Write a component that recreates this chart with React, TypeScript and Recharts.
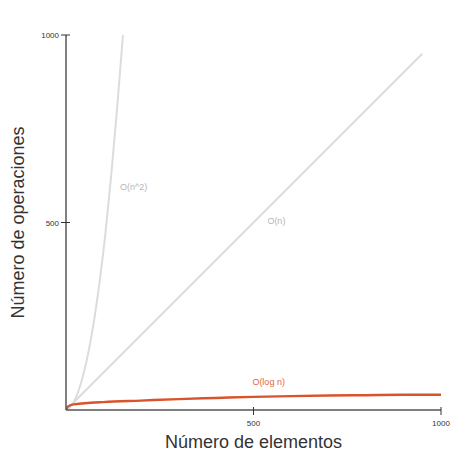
import { LineChart, Line, XAxis, YAxis, ReferenceDot, Label } from "recharts";

// O(n^2) curve
const quadN = [0, 15, 30, 45, 60, 75, 90, 105, 120, 135, 152];
const quadV = [0, 12, 42, 90, 155, 240, 345, 470, 620, 790, 1000];

// O(n) straight line
const linN = [0, 950];
const linV = [0, 950];

// O(log n) curve
const logN = [0, 5, 20, 50, 100, 200, 300, 400, 500, 600, 700, 800, 900, 1000];
const logV = [0, 9, 15, 18, 21, 25, 29, 32, 35, 37, 38.5, 39.5, 40.5, 41];

const xTicks = [500, 1000];
const yTicks = [500, 1000];

const toRows = (ns: number[], vs: number[]) => ns.map((n, i) => ({ n, v: vs[i] }));

const quadData = toRows(quadN, quadV);
const linData = toRows(linN, linV);
const logData = toRows(logN, logV);

const GREY = "#dcdcdc";
const ORANGE = "#d9532c";
const FONT = "'Liberation Sans', Arial, sans-serif";

function YTick(props: any) {
  const { x, y, payload } = props;
  return (
    <g>
      <line x1={x - 5} x2={x + 4} y1={y} y2={y} stroke="#333" strokeWidth={1} />
      <text x={x - 7} y={y + 3} textAnchor="end" fontSize={8} fill="#333" fontFamily={FONT}>
        {payload.value}
      </text>
    </g>
  );
}

function XTick(props: any) {
  const { x, y, payload } = props;
  return (
    <g>
      <line x1={x} x2={x} y1={y - 3} y2={y + 5} stroke="#333" strokeWidth={1} />
      <text x={x} y={y + 16} textAnchor="middle" fontSize={8} fill="#333" fontFamily={FONT}>
        {payload.value}
      </text>
    </g>
  );
}

function SeriesLabel(text: string, color: string) {
  return (props: any) => {
    const { viewBox } = props;
    return (
      <text x={viewBox.x} y={viewBox.y} fontSize={9} fill={color} fontFamily={FONT}>
        {text}
      </text>
    );
  };
}

function YTitle(props: any) {
  const { viewBox } = props;
  const cx = viewBox.x + 8;
  const cy = viewBox.y + viewBox.height / 2;
  return (
    <text
      x={cx}
      y={cy}
      transform={`rotate(-90 ${cx} ${cy})`}
      textAnchor="middle"
      dominantBaseline="central"
      fontSize={18}
      fill="#333"
      fontFamily={FONT}
    >
      Número de operaciones
    </text>
  );
}

export default function App() {
  return (
    <div style={{ position: "absolute", left: 0, top: 0, background: "#fff" }}>
      <LineChart width={473} height={473} margin={{ top: 35, right: 32, bottom: 13, left: 10 }}>
        <XAxis
          type="number"
          dataKey="n"
          domain={[0, 1000]}
          ticks={xTicks}
          tick={<XTick />}
          tickSize={0}
          tickMargin={0}
          tickLine={false}
          stroke="#555"
          strokeWidth={1.5}
          height={50}
          allowDataOverflow
        >
          <Label
            value="Número de elementos"
            position="insideBottom"
            offset={12}
            fontSize={18}
            fill="#333"
            fontFamily={FONT}
          />
        </XAxis>
        <YAxis
          type="number"
          dataKey="v"
          domain={[0, 1000]}
          ticks={yTicks}
          tick={<YTick />}
          tickSize={0}
          tickMargin={0}
          tickLine={false}
          stroke="#555"
          strokeWidth={1.5}
          width={56}
          allowDataOverflow
        >
          <Label content={<YTitle />} />
        </YAxis>
        <Line
          data={quadData}
          dataKey="v"
          type="monotone"
          stroke={GREY}
          strokeWidth={2}
          dot={false}
          isAnimationActive={false}
        />
        <Line
          data={linData}
          dataKey="v"
          type="linear"
          stroke={GREY}
          strokeWidth={2}
          dot={false}
          isAnimationActive={false}
        />
        <Line
          data={logData}
          dataKey="v"
          type="monotone"
          stroke={ORANGE}
          strokeWidth={2.5}
          dot={false}
          isAnimationActive={false}
        />
        <ReferenceDot x={144} y={587} r={0} label={SeriesLabel("O(n^2)", "#b5b5b5")} />
        <ReferenceDot x={537} y={497} r={0} label={SeriesLabel("O(n)", "#b5b5b5")} />
        <ReferenceDot x={497} y={67} r={0} label={SeriesLabel("O(log n)", "#e0663f")} />
      </LineChart>
    </div>
  );
}
